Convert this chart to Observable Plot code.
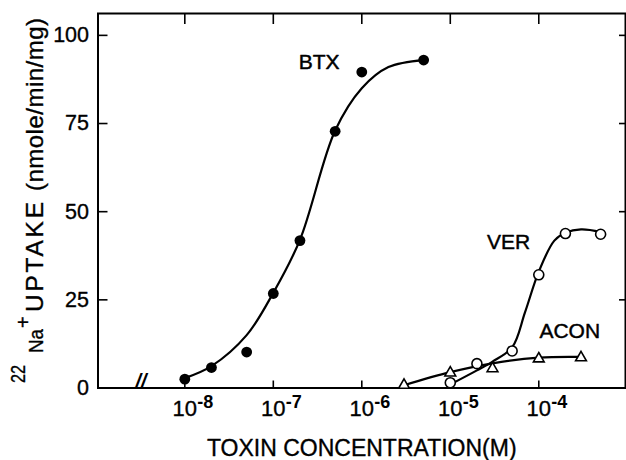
<!DOCTYPE html>
<html>
<head>
<meta charset="utf-8">
<script src="https://cdn.jsdelivr.net/npm/d3@7"></script>
<script src="https://cdn.jsdelivr.net/npm/@observablehq/plot@0.6"></script>
<style>
  html, body { margin: 0; padding: 0; background: #fff; }
  #chart svg { display: block; }
</style>
</head>
<body>
<div id="chart"></div>
<script>
// ---- data ----
const btxConc   = [1e-8, 2e-8, 5e-8, 1e-7, 2e-7, 5e-7, 1e-6, 5e-6];
const btxUptake = [2.5, 5.8, 10.2, 26.8, 41.8, 72.8, 89.6, 93.0];
const verConc   = [1e-5, 2e-5, 5e-5, 1e-4, 2e-4, 5e-4];
const verUptake = [1.5, 6.9, 10.5, 32.1, 43.8, 43.6];
const aconConc   = [3e-6, 1e-5, 3e-5, 1e-4, 3e-4];
const aconUptake = [0.8, 4.3, 5.5, 8.3, 8.6];

// hand-drawn fitted curves
const btxCurveConc   = [1e-8, 2e-8, 5e-8, 1e-7, 2e-7, 5e-7, 1e-6, 2e-6, 5e-6];
const btxCurveUptake = [2.8, 6.2, 15, 27, 42, 73, 85, 91, 93];
const verCurveConc   = [1e-5, 2e-5, 3e-5, 5e-5, 7e-5, 1e-4, 1.5e-4, 2e-4, 3e-4, 5e-4];
const verCurveUptake = [1.0, 5.0, 7.5, 11.5, 21.5, 33, 41.8, 44, 45, 44.3];
const aconCurveConc   = [3e-6, 1e-5, 3e-5, 1e-4, 3e-4];
const aconCurveUptake = [0.8, 4.5, 7.0, 8.6, 8.8];

const seriesLabels = ["BTX", "VER", "ACON"];
const labelConc    = [3.3e-7, 4.55e-5, 2.24e-4];
const labelUptake  = [92.3, 41.2, 16.2];

const xTicks = [1e-8, 1e-7, 1e-6, 1e-5, 1e-4];
const xTickBase = "10";
const xTickExponents = ["-8", "-7", "-6", "-5", "-4"];
const yTicks = [0, 25, 50, 75, 100];
const axisBreak = "//";
const axisBreakConc = [3.2e-9];
const xTitle = "TOXIN CONCENTRATION(M)";
const yTitleParts = ["22", "Na", "+", "UPTAKE", "(nmole/min/mg)"];

// ---- tables ----
const pts = (xs, ys) => xs.map((x, i) => ({x, y: ys[i]}));
const btx = pts(btxConc, btxUptake);
const ver = pts(verConc, verUptake);
const acon = pts(aconConc, aconUptake);
const btxCurve = pts(btxCurveConc, btxCurveUptake);
const verCurve = pts(verCurveConc, verCurveUptake);
const aconCurve = pts(aconCurveConc, aconCurveUptake);
const labels = seriesLabels.map((t, i) => ({t, x: labelConc[i], y: labelUptake[i]}));

const FONT = "'Liberation Sans', Arial, Helvetica, sans-serif";
const W = 626, H = 460;
const mL = 97.5, mR = 1, mT = 13, mB = 72.5;
const pw = W - mL - mR, ph = H - mT - mB;
const heavy = {fill: "#000", stroke: "#000", strokeWidth: 0.35};

const plot = Plot.plot({
  width: W, height: H,
  marginLeft: mL, marginRight: mR, marginTop: mT, marginBottom: mB,
  style: {fontFamily: FONT, background: "#fff", color: "#000", overflow: "visible"},
  x: {type: "log", domain: [Math.pow(10, -8.981), Math.pow(10, -3.02)], axis: null},
  y: {domain: [0, 106.2], axis: null},
  marks: [
    Plot.frame({stroke: "#000", strokeWidth: 2}),
    // inward ticks
    Plot.tickX(xTicks, {x: d => d, insetTop: ph - 7, stroke: "#000", strokeWidth: 1.6}),
    Plot.tickX(xTicks, {x: d => d, insetBottom: ph - 11, stroke: "#000", strokeWidth: 1.6}),
    Plot.tickY(yTicks, {y: d => d, insetRight: pw - 10, stroke: "#000", strokeWidth: 1.6}),
    Plot.tickY(yTicks, {y: d => d, insetLeft: pw - 6, stroke: "#000", strokeWidth: 1.6}),
    // axis break
    Plot.text(axisBreakConc, {x: d => d, frameAnchor: "bottom", text: () => axisBreak,
      fontSize: 20, fontWeight: "bold", fill: "#000", dy: 0, fontStyle: "italic"}),
    // tick labels
    Plot.text(yTicks, {y: d => d, frameAnchor: "left", text: d => String(d), textAnchor: "end",
      dx: -9, fontSize: 21.5, ...heavy}),
    Plot.text(xTicks, {x: d => d, frameAnchor: "bottom", text: () => xTickBase,
      lineAnchor: "bottom", dy: 27.5, fontSize: 22, ...heavy}),
    Plot.text(xTicks, {x: d => d, frameAnchor: "bottom", text: (d, i) => xTickExponents[i],
      textAnchor: "start", lineAnchor: "bottom", dx: 12.5, dy: 20, fontSize: 18,
      fontWeight: "bold", fill: "#000"}),
    // x title
    Plot.text([xTitle], {frameAnchor: "bottom", text: d => d, lineAnchor: "bottom",
      dy: 68, fontSize: 23, ...heavy}),
    // curves
    Plot.line(btxCurve, {x: "x", y: "y", curve: "catmull-rom", stroke: "#000", strokeWidth: 2.2}),
    Plot.line(verCurve, {x: "x", y: "y", curve: "catmull-rom", stroke: "#000", strokeWidth: 2.2}),
    Plot.line(aconCurve, {x: "x", y: "y", curve: "catmull-rom", stroke: "#000", strokeWidth: 2.2}),
    // points
    Plot.dot(btx, {x: "x", y: "y", r: 5.4, fill: "#000", stroke: "none"}),
    Plot.dot(ver, {x: "x", y: "y", r: 5, fill: "#fff", stroke: "#000", strokeWidth: 1.6}),
    Plot.dot(acon, {x: "x", y: "y", r: 4, symbol: "triangle", fill: "#fff", stroke: "#000", strokeWidth: 1.6}),
    // series labels
    Plot.text(labels, {x: "x", y: "y", text: "t", fontSize: 21, fill: "#000",
      stroke: "#000", strokeWidth: 0.45})
  ]
});

// rotated y-axis title with superscripts
const svg = d3.select(plot);
const g = svg.append("g")
  .attr("transform", "translate(43,383) rotate(-90)")
  .attr("font-family", FONT)
  .attr("text-anchor", "start")
  .attr("fill", "#000")
  .attr("stroke", "#000")
  .attr("stroke-width", 0.35)
  .attr("paint-order", "stroke");
const segs = [
  {x: 0,   y: -18,   size: 21, len: 18,  adj: "spacingAndGlyphs"},
  {x: 30,  y: 0,     size: 21, len: 24,  adj: "spacingAndGlyphs"},
  {x: 55,  y: -13.5, size: 20, len: null},
  {x: 71,  y: 0,     size: 24.5, len: 110, adj: "spacing"},
  {x: 192, y: 0,     size: 24, len: 173, adj: "spacing"}
];
yTitleParts.forEach((t, i) => {
  const s = segs[i];
  const el = g.append("text")
    .attr("x", s.x).attr("y", s.y)
    .attr("text-anchor", "start")
    .attr("font-size", s.size)
    .text(t);
  if (s.len) el.attr("textLength", s.len).attr("lengthAdjust", s.adj);
});

document.getElementById("chart").appendChild(plot);
</script>
</body>
</html>
